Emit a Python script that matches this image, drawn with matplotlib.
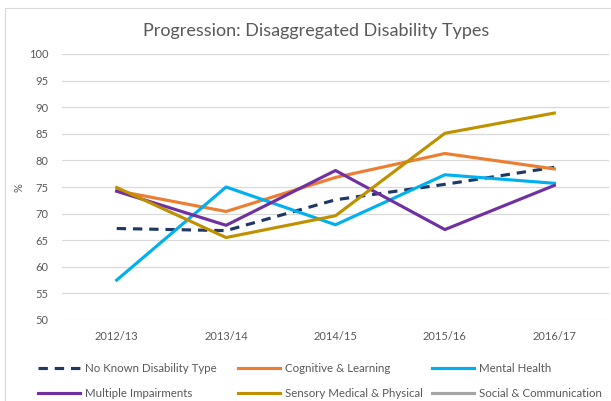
import numpy as np
import matplotlib
matplotlib.use("Agg")
import matplotlib.pyplot as plt
from matplotlib.patches import Rectangle

years = ["2012/13", "2013/14", "2014/15", "2015/16", "2016/17"]

no_known = [67.2, 66.8, 72.6, 75.5, 78.7]
cognitive = [74.3, 70.4, 76.8, 81.3, 78.4]
mental = [57.5, 75.0, 67.9, 77.3, 75.7]
multiple = [74.2, 67.8, 78.1, 67.0, 75.3]
sensory = [74.9, 65.5, 69.6, 85.1, 88.9]
social = [np.nan] * 5

series = [
    ("No Known Disability Type", no_known, "#203864", "--"),
    ("Cognitive & Learning", cognitive, "#ED7D31", "-"),
    ("Mental Health", mental, "#00B0F0", "-"),
    ("Multiple Impairments", multiple, "#7030A0", "-"),
    ("Sensory Medical & Physical", sensory, "#BF9000", "-"),
    ("Social & Communication", social, "#A5A5A5", "-"),
]

plt.rcParams['font.family'] = ['Lato', 'DejaVu Sans']

fig = plt.figure(figsize=(6.11, 4.01), dpi=100)
fig.patches.append(Rectangle((5 / 611, -0.1), 1.2, 1 - 8 / 401 + 0.1,
                             transform=fig.transFigure, fill=False,
                             edgecolor="#D9D9D9", lw=0.8))

ax = fig.add_axes([62 / 611, 1 - 320 / 401, 547 / 611, 266 / 401])
x = np.arange(len(years))
handles = []
for name, vals, col, ls in series:
    if ls == "--":
        h, = ax.plot(x, vals, color=col, lw=2.25, dashes=(3, 2.2), label=name)
    else:
        h, = ax.plot(x, vals, color=col, lw=2.25, label=name)
    handles.append(h)

ax.set_xlim(-0.5, len(years) - 0.5)
ax.set_ylim(50, 100)
ax.set_yticks(np.arange(50, 101, 5))
ax.set_xticks(x)
ax.set_xticklabels(years)
ax.tick_params(length=0, labelsize=8, colors="#595959", pad=8)
ax.tick_params(axis="y", pad=10)
ax.grid(axis="y", color="#D9D9D9", lw=0.9)
ax.set_axisbelow(True)
for s in ax.spines.values():
    s.set_visible(False)
fig.text(19 / 611, 1 - 188 / 401, "%", rotation=90, ha="center", va="center",
         fontsize=8, color="#595959")

fig.text(316 / 611, 1 - 31 / 401, "Progression: Disaggregated Disability Types",
         ha="center", va="center", fontsize=13, color="#595959")

# legend: three columns placed like the reference
col_x = [30, 230, 424]
for c in range(3):
    idx = [c, c + 3]
    fig.legend([handles[i] for i in idx], [series[i][0] for i in idx],
               ncol=1, loc="center left",
               bbox_to_anchor=(col_x[c] / 611, 1 - 381 / 401),
               frameon=False, fontsize=8.3, handlelength=3.6, handletextpad=0.5,
               labelspacing=1.25, labelcolor="#595959", borderpad=0.2)

fig.savefig("out.png", dpi=100)
